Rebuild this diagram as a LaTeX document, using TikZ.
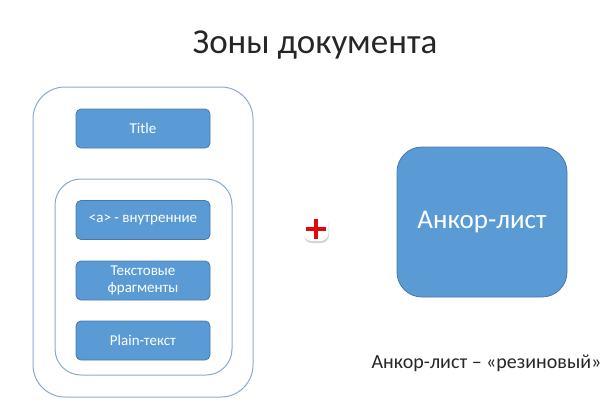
\documentclass[tikz,border=0pt]{standalone}
\usepackage{fontspec}
\setmainfont{Carlito}
\usepackage{xcolor}
\usepackage{tikz}
\usetikzlibrary{shadows}
\definecolor{zoneblue}{RGB}{91,155,213}
\definecolor{zoneedge}{RGB}{70,120,170}
\definecolor{frameblue}{RGB}{140,168,218}
\definecolor{plusred}{RGB}{225,10,10}

\begin{document}
\begin{tikzpicture}[x=1pt, y=-1pt,
    zone/.style={draw=zoneedge, line width=0.8pt, fill=zoneblue, rounded corners=5pt,
      text=white, minimum width=134pt, minimum height=39pt, align=center,
      font=\fontsize{15}{17.5}\selectfont},
    frame/.style={draw=frameblue, line width=1pt, rounded corners=#1},
    plusmark/.style={fill=white, rounded corners=8pt, minimum size=25pt,
      drop shadow={opacity=0.35, shadow xshift=0.5pt, shadow yshift=-2pt}}]
  \useasboundingbox[fill=white] (0,0) rectangle (616,408);
  % heading
  \node[anchor=base, font=\fontsize{35}{42}\selectfont, text=black!85] (heading) at (315,53) {Зоны документа};
  % left: zones of the document
  \node[frame=32pt, minimum width=220pt, minimum height=310pt] (outer) at (143,242) {};
  \node[frame=26pt, minimum width=177pt, minimum height=196pt] (inner) at (143.5,277) {};
  \node[zone] (title) at (143,128.5) {Title};
  \node[zone] (links) at (143,220) {<a> - внутренние};
  \node[zone] (frags) at (143,280.5) {Текстовые\\фрагменты};
  \node[zone] (plain) at (143,340.5) {Plain-текст};
  % plus sign
  \node[plusmark] (plus) at (316,228.5) {};
  \draw[plusred, line width=4pt] ([xshift=-10pt]plus.center) -- ([xshift=10pt]plus.center);
  \draw[plusred, line width=4pt] ([yshift=-10pt]plus.center) -- ([yshift=10pt]plus.center);
  % right: anchor list
  \node[zone, rounded corners=25pt, minimum width=170pt, minimum height=150pt,
    font=\fontsize{27}{32}\selectfont] (anchor) at (482,222) {Анкор-лист};
  \node[anchor=base, font=\fontsize{20}{24}\selectfont, text=black!85] (caption) at (486.5,368) {Анкор-лист – «резиновый»};
\end{tikzpicture}
\end{document}
